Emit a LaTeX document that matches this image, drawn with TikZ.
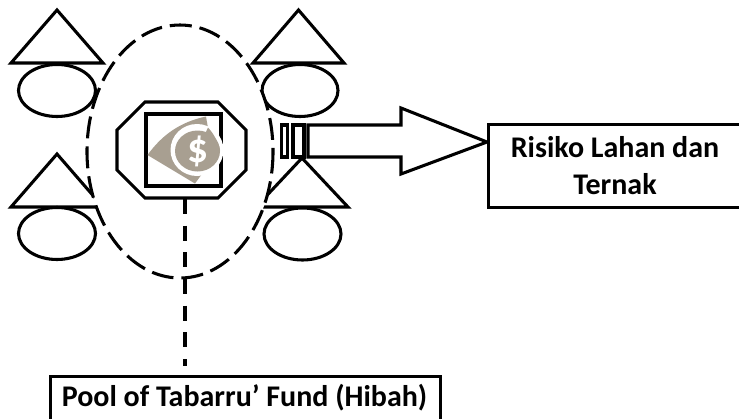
\documentclass[tikz,border=0pt]{standalone}
\usepackage{fontspec}
\setmainfont{Carlito}
\definecolor{iconGrey}{HTML}{A89F91}
\tikzset{
  ln/.style={draw=black,line width=2.3pt,line join=miter},
  tri/.style={ln,fill=white},
  oval/.style={ln,fill=white},
  boxnode/.style={ln,fill=white,inner sep=0pt,anchor=north west},
  label/.style={inner sep=0pt,font=\fontsize{22.5pt}{27.75pt}\selectfont\bfseries,align=center},
  bigdash/.style={ln,fill=white,dash pattern=on 16.5pt off 6pt},
  fund/.style={draw=black,line width=2.8pt,dash pattern=on 11.2pt off 8.8pt}
}
\begin{document}
\begin{tikzpicture}[x=0.75pt,y=-0.75pt]
\useasboundingbox (0,0) rectangle (739,418);
\clip (0,0) rectangle (739,418);
% members
\draw[tri] (57,10) -- (103,63) -- (11,63) -- cycle;
\draw[oval] (57,90.5) ellipse [x radius=38.5,y radius=26];
\draw[tri] (298.5,10) -- (344,63) -- (253,63) -- cycle;
\draw[oval] (300,90.5) ellipse [x radius=38,y radius=26];
\draw[tri] (57,154) -- (103,207) -- (11,207) -- cycle;
\draw[oval] (57,233.5) ellipse [x radius=38.5,y radius=26];
\draw[tri] (302,158) -- (348,207) -- (256,207) -- cycle;
\draw[oval] (302.5,234) ellipse [x radius=38.5,y radius=26];
% pool ellipse
\draw[bigdash] (180,151.5) ellipse [x radius=93,y radius=126.5];
% octagon and square
\draw[ln,fill=white] (145,102) -- (218,102) -- (246,130) -- (246,170) -- (218,198) -- (145,198) -- (117,170) -- (117,130) -- cycle;
\draw[ln,fill=white] (146,114) rectangle (221,186);
% icon
\fill[iconGrey] (147.5,155) .. controls (162,135) and (180,122) .. (206,116.5) -- (208,128) -- (200,172) -- (202,174) -- (195,183.5) -- cycle;
\fill[white] (197,150) ellipse [x radius=26.5,y radius=26];
\fill[iconGrey] (197.5,151) ellipse [x radius=22.5,y radius=20.5];
\fill[iconGrey] (208,127.5) .. controls (214,134) and (218,142) .. (220,150) -- (200,145) -- cycle;
\node[inner sep=0pt,text=white,font=\fontsize{31pt}{31pt}\selectfont\bfseries] (dollar) at (197.5,151) {\$};
% arrow
\draw[ln,fill=white] (281.5,125) rectangle (287.5,157);
\draw[ln,fill=white] (293,125) rectangle (304,157);
\coordinate (arrowtip) at (487,142);
\draw[ln,fill=white] (308,125) -- (401,125) -- (401,108) -- (arrowtip) -- (401,174) -- (401,157) -- (308,157) -- cycle;
% boxes
\node[boxnode,minimum width=193.5pt,minimum height=62.25pt] (riskbox) at (487,123) {};
\node[label] (risktext) at (615,166) {Risiko Lahan dan\\Ternak};
\node[boxnode,minimum width=292.5pt,minimum height=45pt] (poolbox) at (49,374.5) {};
\node[label] (pooltext) at (244.5,398) {Pool of Tabarru’ Fund (Hibah)};
% dashed lead
\coordinate (octbottom) at (185,199);
\coordinate (leadend) at (185,365.5);
\draw[fund] (octbottom) -- (leadend);
\end{tikzpicture}
\end{document}
